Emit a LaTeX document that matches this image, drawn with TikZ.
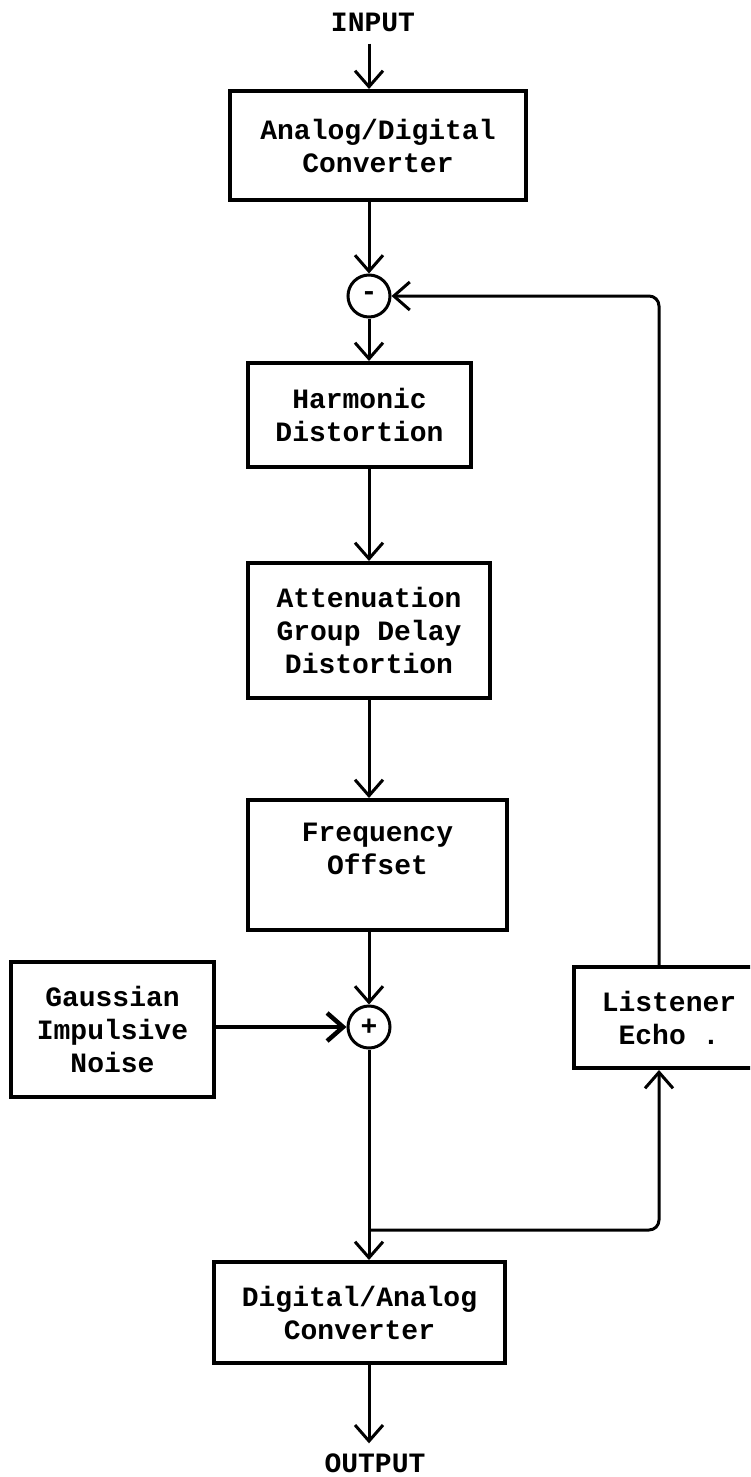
\documentclass[tikz,border=0pt]{standalone}
\usepackage{fontspec}
\setmonofont{Liberation Mono}
\usetikzlibrary{arrows.meta}
\begin{document}
\begin{tikzpicture}[x=1pt,y=-1pt,
  lbl/.style={font=\ttfamily\bfseries\fontsize{28}{33}\selectfont, align=center, inner sep=0pt},
  blk/.style={lbl, draw, line width=4pt, rectangle},
  sumc/.style={lbl, circle, draw, line width=3pt, minimum size=42pt, inner sep=0pt},
  conn/.style={line width=3pt},
  arr/.style={conn, -{Straight Barb[length=16pt,width=28pt]}},
]
\useasboundingbox (0,0) rectangle (750,1477);
\clip (0,0) rectangle (750,1477);

\node[lbl] (in) at (373,22) {INPUT};
\node[blk, minimum width=296pt, minimum height=109pt] (ad) at (378,145.5) {Analog/Digital\\Converter};
\node[sumc] (sum1) at (369,296) {-};
\node[blk, minimum width=223pt, minimum height=104pt] (harm) at (359.5,415) {Harmonic\\Distortion};
\node[blk, minimum width=242pt, minimum height=135pt] (atten) at (369,630.5) {Attenuation\\Group Delay\\Distortion};
\node[blk, minimum width=259pt, minimum height=130pt] (freq) at (377.5,865) {Frequency\\Offset\\\mbox{}};
\node[sumc] (sum2) at (369,1027) {+};
\node[blk, minimum width=203pt, minimum height=135pt] (gauss) at (112.5,1029.5) {Gaussian\\Impulsive\\Noise};
\node[blk, minimum width=190pt, minimum height=101pt] (lis) at (669,1017.5) {Listener\\Echo .};
\node[blk, minimum width=291pt, minimum height=101pt] (da) at (359.5,1312.5) {Digital/Analog\\Converter};
\node[lbl] (out) at (375,1463) {OUTPUT};

\coordinate (j) at (369,1230);
\coordinate (jr) at (659,1230);

\draw[arr, shorten <=12pt] (in.south -| sum1) -- (ad.north -| sum1);
\draw[arr] (ad.south -| sum1) -- (sum1.north);
\draw[arr] (sum1.south) -- (harm.north -| sum1);
\draw[arr] (harm.south -| sum1) -- (atten.north -| sum1);
\draw[arr] (atten.south -| sum1) -- (freq.north -| sum1);
\draw[arr] (freq.south -| sum2) -- (sum2.north);
\draw[arr, line width=4.5pt] (gauss.east |- sum2) -- (sum2.west);
\draw[arr] (sum2.south) -- (da.north -| sum2);
\draw[arr, shorten >=10pt] (da.south -| sum2) -- (out.north -| sum2);
\draw[arr, rounded corners=10pt] (j) -- (jr) -- (jr |- lis.south);
\draw[arr, rounded corners=10pt] (jr |- lis.north) |- (sum1.east);
\end{tikzpicture}
\end{document}
